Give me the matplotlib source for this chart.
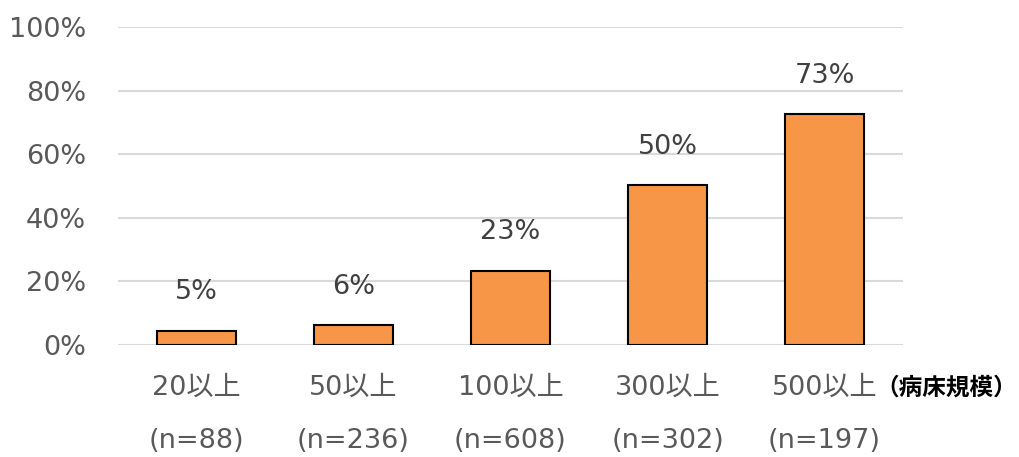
import matplotlib.pyplot as plt

categories = ['20以上', '50以上', '100以上', '300以上', '500以上']
counts = ['(n=88)', '(n=236)', '(n=608)', '(n=302)', '(n=197)']
values = [4.5, 6.2, 23.4, 50.2, 72.5]
labels = ['5%', '6%', '23%', '50%', '73%']

fonts = ['DejaVu Sans', 'Noto Sans CJK JP']
plt.rcParams['font.family'] = fonts
fs = 19.5

fig = plt.figure(figsize=(10.19, 4.57), dpi=100)
ax = fig.add_axes([118/1019, 1-345/457, (903-118)/1019, (345-27)/457])

x = range(len(categories))
ax.bar(x, values, width=0.5, color='#F79646', edgecolor='black', linewidth=1.5, zorder=3)

for i, (v, lab) in enumerate(zip(values, labels)):
    ax.annotate(lab, (i, v), xytext=(0, 27.5), textcoords='offset points',
                ha='center', va='center', fontsize=fs, color='#404040')

ax.set_xlim(-0.5, len(categories) - 0.5)
ax.set_ylim(0, 100)
ax.set_yticks([0, 20, 40, 60, 80, 100])
ax.set_yticklabels(['0%', '20%', '40%', '60%', '80%', '100%'], fontsize=fs, color='#595959')
ax.tick_params(axis='y', length=0, pad=23)
ax.set_xticks([])
ax.grid(axis='y', color='#d9d9d9', linewidth=1.5, zorder=0)
for s in ax.spines.values():
    s.set_visible(False)

tr = ax.get_xaxis_transform()
for i, (c, n) in enumerate(zip(categories, counts)):
    ax.text(i, -0.135, c, transform=tr, ha='center', va='center', fontsize=fs, color='#595959')
    ax.text(i, -0.302, n, transform=tr, ha='center', va='center', fontsize=fs, color='#595959')

fig.text(1017/1019, 1-388/457, '（病床規模）', ha='right', va='center', fontsize=17,
         color='black', fontweight='bold', family=['Noto Sans CJK JP', 'DejaVu Sans'])

fig.savefig('out.png')
